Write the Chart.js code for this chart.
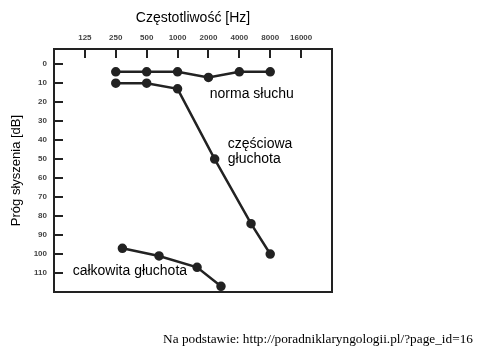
<!DOCTYPE html>
<html>
<head>
<meta charset="utf-8">
<script src="https://cdn.jsdelivr.net/npm/chart.js@4"></script>
<style>
  body { margin: 0; background: #fff; }
  #wrap { position: relative; width: 480px; height: 351px; }
  #src { position: absolute; right: 7px; top: 331px; font: 13.3px "Liberation Serif", "Times New Roman", serif; color: #000; }
</style>
</head>
<body>
<div id="wrap">
  <canvas id="chart" width="480" height="351"></canvas>
  <div id="src">Na podstawie: http://poradniklaryngologii.pl/?page_id=16</div>
</div>
<script>
// frequency ticks (Hz) and threshold ticks (dB)
const freqTicks = [125, 250, 500, 1000, 2000, 4000, 8000, 16000];
const dbTicks = [0, 10, 20, 30, 40, 50, 60, 70, 80, 90, 100, 110];

// norma słuchu
const normaFreq = [250, 500, 1000, 2000, 4000, 8000];
const normaDb = [4, 4, 4, 7, 4, 4];

// częściowa głuchota
const czescFreq = [250, 500, 1000, 2300, 5200, 8000];
const czescDb = [10, 10, 13, 50, 84, 100];

// całkowita głuchota
const calkFreq = [290, 660, 1550, 2650];
const calkDb = [97, 101, 107, 117];

const toPts = (xs, ys) => xs.map((x, i) => ({ x: x, y: ys[i] }));

const labels = [
  { text: 'norma słuchu', x: 2060, y: 16 },
  { text: 'częściowa', x: 3090, y: 42 },
  { text: 'głuchota', x: 3090, y: 50 },
  { text: 'całkowita głuchota', x: 95, y: 109 }
];

const frame = {
  id: 'frame',
  afterDraw(chart) {
    const { ctx, chartArea: a, scales } = chart;
    ctx.save();
    ctx.strokeStyle = '#222';
    ctx.lineWidth = 2;
    ctx.strokeRect(a.left, a.top, a.right - a.left, a.bottom - a.top);
    // inner tick marks
    freqTicks.forEach(f => {
      const px = Math.round(scales.x.getPixelForValue(f));
      ctx.beginPath(); ctx.moveTo(px, a.top); ctx.lineTo(px, a.top + 9); ctx.stroke();
    });
    dbTicks.forEach(d => {
      const py = Math.round(scales.y.getPixelForValue(d));
      ctx.beginPath(); ctx.moveTo(a.left, py); ctx.lineTo(a.left + 9, py); ctx.stroke();
    });
    // curve labels
    ctx.fillStyle = '#000';
    ctx.font = '14px "Liberation Sans", Arial, sans-serif';
    ctx.textBaseline = 'middle';
    labels.forEach(l => {
      ctx.fillText(l.text, scales.x.getPixelForValue(l.x), scales.y.getPixelForValue(l.y));
    });
    ctx.restore();
  }
};

const lineStyle = {
  showLine: true,
  borderColor: '#222',
  backgroundColor: '#222',
  borderWidth: 2.5,
  pointRadius: 3.5,
  pointHoverRadius: 3.5,
  tension: 0
};

new Chart(document.getElementById('chart'), {
  type: 'scatter',
  data: {
    datasets: [
      Object.assign({ label: 'norma słuchu', data: toPts(normaFreq, normaDb) }, lineStyle),
      Object.assign({ label: 'częściowa głuchota', data: toPts(czescFreq, czescDb) }, lineStyle),
      Object.assign({ label: 'całkowita głuchota', data: toPts(calkFreq, calkDb) }, lineStyle)
    ]
  },
  options: {
    responsive: false,
    animation: false,
    layout: {
      padding: { left: 0, top: 0, right: 148, bottom: 59 }
    },
    plugins: {
      legend: { display: false },
      tooltip: { enabled: false }
    },
    scales: {
      x: {
        type: 'logarithmic',
        position: 'top',
        min: 62.5,
        max: 32000,
        afterBuildTicks: s => { s.ticks = freqTicks.map(v => ({ value: v })); },
        afterFit: s => { s.height = 49; },
        grid: { display: false, drawTicks: false },
        border: { display: false },
        ticks: {
          autoSkip: false,
          maxRotation: 0,
          padding: 6,
          color: '#444',
          font: { family: 'Liberation Sans, Arial, sans-serif', size: 8, weight: 'bold' },
          callback: v => String(v)
        },
        title: {
          display: true,
          text: 'Częstotliwość [Hz]',
          color: '#000',
          font: { family: 'Liberation Sans, Arial, sans-serif', size: 14 },
          padding: { top: 10, bottom: 6 }
        }
      },
      y: {
        type: 'linear',
        reverse: true,
        min: -8,
        max: 120,
        afterBuildTicks: s => { s.ticks = dbTicks.map(v => ({ value: v })); },
        afterFit: s => { s.width = 54; },
        grid: { display: false, drawTicks: false },
        border: { display: false },
        ticks: {
          padding: 7,
          color: '#444',
          font: { family: 'Liberation Sans, Arial, sans-serif', size: 8, weight: 'bold' }
        },
        title: {
          display: true,
          text: 'Próg słyszenia [dB]',
          color: '#000',
          font: { family: 'Liberation Sans, Arial, sans-serif', size: 13 },
          padding: { top: 9, bottom: 0 }
        }
      }
    }
  },
  plugins: [frame]
});
</script>
</body>
</html>
